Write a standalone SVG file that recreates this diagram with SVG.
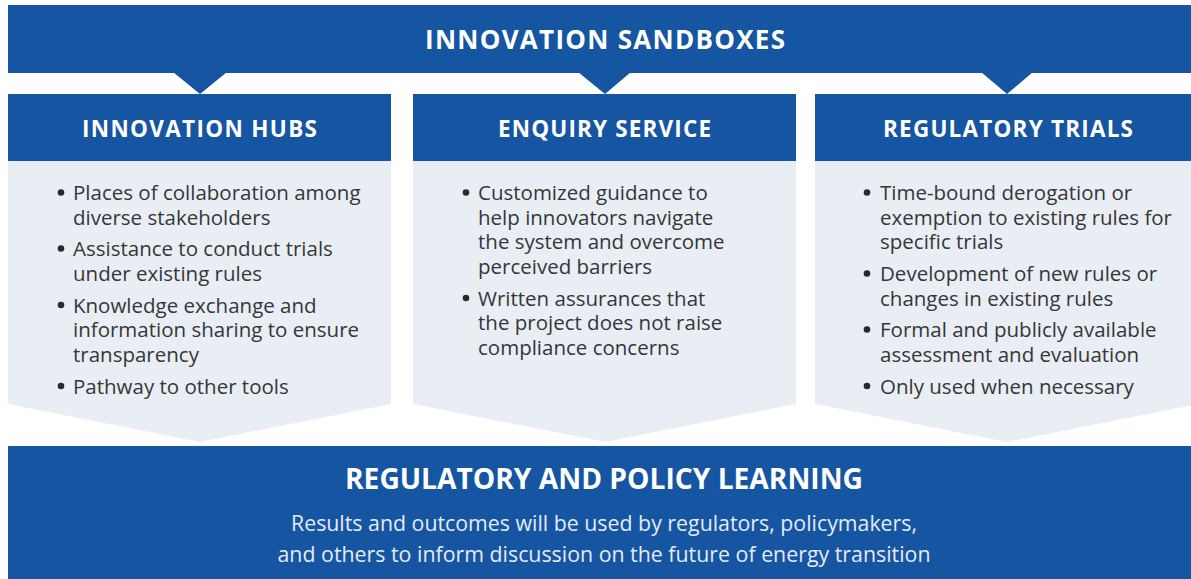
<svg xmlns="http://www.w3.org/2000/svg" width="1191" height="579" viewBox="0 0 1191 579">
  <style>
    .blue { fill: #1555a2; }
    .panel { fill: #e9eef5; }
    .head { font-family: "Open Sans", "Liberation Sans", sans-serif; font-weight: 700; fill: #ffffff; text-anchor: middle; }
    .body { font-family: "Open Sans", "Liberation Sans", sans-serif; font-size: 20.5px; fill: #363636; }
    .sub { font-family: "Open Sans", "Liberation Sans", sans-serif; font-size: 22px; fill: #e4ebf5; text-anchor: middle; }
    .dot { fill: #2a2a2a; }
  </style>
  <rect width="1191" height="579" fill="#ffffff"/>

  <!-- top banner with pointers into each column -->
  <g id="sandboxes">
    <rect class="blue" x="8" y="5" width="1183" height="68"/>
    <polygon class="blue" points="173,72 227,72 200,94"/>
    <polygon class="blue" points="578,72 631,72 605,94"/>
    <polygon class="blue" points="981,72 1033,72 1007,94"/>
    <text class="head" x="605" y="49" font-size="26" textLength="360" lengthAdjust="spacing">INNOVATION SANDBOXES</text>
  </g>

  <!-- column 1 -->
  <g id="hubs">
    <polygon class="panel" points="8,161 391,161 391,404 200,442 8,404"/>
    <rect class="blue" x="8" y="94" width="383" height="67"/>
    <text class="head" x="199.5" y="137" font-size="22.5" textLength="235" lengthAdjust="spacing">INNOVATION HUBS</text>
    <circle class="dot" cx="61" cy="192.5" r="3.3"/>
    <circle class="dot" cx="61" cy="248.5" r="3.3"/>
    <circle class="dot" cx="61" cy="305" r="3.3"/>
    <circle class="dot" cx="61" cy="386" r="3.3"/>
    <text class="body">
      <tspan x="73" y="200">Places of collaboration among</tspan>
      <tspan x="73" y="224.5">diverse stakeholders</tspan>
      <tspan x="73" y="256">Assistance to conduct trials</tspan>
      <tspan x="73" y="280.5">under existing rules</tspan>
      <tspan x="73" y="312.5">Knowledge exchange and</tspan>
      <tspan x="73" y="337">information sharing to ensure</tspan>
      <tspan x="73" y="361.5">transparency</tspan>
      <tspan x="73" y="393.5">Pathway to other tools</tspan>
    </text>
  </g>

  <!-- column 2 -->
  <g id="enquiry">
    <polygon class="panel" points="413,161 796,161 796,404 605,442 413,404"/>
    <rect class="blue" x="413" y="94" width="383" height="67"/>
    <text class="head" x="604.5" y="137" font-size="22.5" textLength="213" lengthAdjust="spacing">ENQUIRY SERVICE</text>
    <circle class="dot" cx="466" cy="192.5" r="3.3"/>
    <circle class="dot" cx="466" cy="298" r="3.3"/>
    <text class="body">
      <tspan x="478" y="200">Customized guidance to</tspan>
      <tspan x="478" y="224.5">help innovators navigate</tspan>
      <tspan x="478" y="249">the system and overcome</tspan>
      <tspan x="478" y="273.5">perceived barriers</tspan>
      <tspan x="478" y="305.5">Written assurances that</tspan>
      <tspan x="478" y="330">the project does not raise</tspan>
      <tspan x="478" y="354.5">compliance concerns</tspan>
    </text>
  </g>

  <!-- column 3 -->
  <g id="trials">
    <polygon class="panel" points="815,161 1198,161 1198,404 1007,442 815,404"/>
    <rect class="blue" x="815" y="94" width="383" height="67"/>
    <text class="head" x="1008" y="137" font-size="22.5" textLength="250" lengthAdjust="spacing">REGULATORY TRIALS</text>
    <circle class="dot" cx="867" cy="192.5" r="3.3"/>
    <circle class="dot" cx="867" cy="273.5" r="3.3"/>
    <circle class="dot" cx="867" cy="329.5" r="3.3"/>
    <circle class="dot" cx="867" cy="386" r="3.3"/>
    <text class="body">
      <tspan x="880" y="200">Time-bound derogation or</tspan>
      <tspan x="880" y="224.5">exemption to existing rules for</tspan>
      <tspan x="880" y="249">specific trials</tspan>
      <tspan x="880" y="281">Development of new rules or</tspan>
      <tspan x="880" y="305.5">changes in existing rules</tspan>
      <tspan x="880" y="337">Formal and publicly available</tspan>
      <tspan x="880" y="361.5">assessment and evaluation</tspan>
      <tspan x="880" y="393.5">Only used when necessary</tspan>
    </text>
  </g>

  <!-- bottom banner -->
  <g id="learning">
    <rect class="blue" x="8" y="446" width="1183" height="133"/>
    <text class="head" x="604" y="489" font-size="28" textLength="518" lengthAdjust="spacingAndGlyphs">REGULATORY AND POLICY LEARNING</text>
    <text class="sub" x="604" y="531" textLength="626" lengthAdjust="spacingAndGlyphs">Results and outcomes will be used by regulators, policymakers,</text>
    <text class="sub" x="604" y="562" textLength="653" lengthAdjust="spacingAndGlyphs">and others to inform discussion on the future of energy transition</text>
  </g>

  <g id="connectors"/>
</svg>
